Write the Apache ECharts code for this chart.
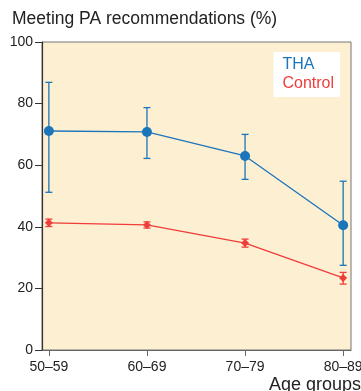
<!DOCTYPE html>
<html>
<head>
<meta charset="utf-8">
<script src="https://cdn.jsdelivr.net/npm/echarts@6/dist/echarts.min.js"></script>
<style>
  html, body { margin: 0; padding: 0; background: #fff; }
  #chart { width: 361px; height: 391px; }
</style>
</head>
<body>
<div id="chart"></div>
<script>
var ageGroups = ['50–59', '60–69', '70–79', '80–89'];
var yTicks = [0, 20, 40, 60, 80, 100];

// THA group: mean and error bar ends
var thaMean = [71.1, 70.8, 63.0, 40.5];
var thaLow  = [51.2, 62.2, 55.4, 27.5];
var thaHigh = [86.9, 78.7, 70.0, 54.8];

// Control group
var ctrlMean = [41.3, 40.6, 34.7, 23.4];
var ctrlLow  = [40.1, 39.6, 33.4, 21.4];
var ctrlHigh = [42.5, 41.6, 36.0, 25.2];

var blue = '#1b75bb';
var red = '#ee3d3a';
var font = 'Liberation Sans, Arial, Helvetica, sans-serif';

function pairs(vals) {
    return vals.map(function (v, i) { return [i, v]; });
}
function bars(low, high) {
    return low.map(function (v, i) { return [i, v, high[i]]; });
}

function errorBar(color, cap) {
    return function (params, api) {
        var lo = api.coord([api.value(0), api.value(1)]);
        var hi = api.coord([api.value(0), api.value(2)]);
        var style = { stroke: color, lineWidth: 1.3 };
        return {
            type: 'group',
            children: [
                { type: 'line', shape: { x1: lo[0], y1: lo[1], x2: hi[0], y2: hi[1] }, style: style },
                { type: 'line', shape: { x1: lo[0] - cap, y1: lo[1], x2: lo[0] + cap, y2: lo[1] }, style: style },
                { type: 'line', shape: { x1: hi[0] - cap, y1: hi[1], x2: hi[0] + cap, y2: hi[1] }, style: style }
            ]
        };
    };
}

var chart = echarts.init(document.getElementById('chart'));

var option = {
    animation: false,
    textStyle: { fontFamily: font },
    title: {
        text: 'Meeting PA recommendations (%)',
        left: 7,
        top: 5,
        textStyle: { fontSize: 17.5, fontWeight: 'normal', color: '#222', fontFamily: font }
    },
    grid: {
        left: 42,
        right: 10,
        top: 42,
        bottom: 41,
        outerBoundsMode: 'none',
        show: true,
        backgroundColor: '#fdefd2',
        borderColor: '#777',
        borderWidth: 1
    },
    legend: {
        orient: 'vertical',
        right: 21,
        top: 52,
        width: 67,
        backgroundColor: '#fff',
        padding: [5, 6, 5, 9],
        itemGap: 3,
        itemWidth: 0,
        itemHeight: 0,
        icon: 'none',
        selectedMode: false,
        data: [
            { name: 'THA', textStyle: { color: blue } },
            { name: 'Control', textStyle: { color: red } }
        ],
        textStyle: { fontSize: 16, fontFamily: font, padding: [0, 0, 0, -5] }
    },
    xAxis: {
        type: 'value',
        min: -0.07,
        max: 3.08,
        splitLine: { show: false },
        axisLine: { onZero: false, lineStyle: { color: '#666', width: 1 } },
        axisTick: { show: true, length: 6, lineStyle: { color: '#666' }, customValues: [0, 1, 2, 3] },
        axisLabel: {
            customValues: [0, 1, 2, 3],
            fontSize: 14,
            color: '#222',
            margin: 10,
            hideOverlap: false,
            formatter: function (v) { return ageGroups[Math.round(v)]; }
        }
    },
    yAxis: {
        type: 'value',
        min: 0,
        max: 100,
        interval: 20,
        splitLine: { show: false },
        axisLine: { show: true, onZero: false, lineStyle: { color: '#333', width: 1.2 } },
        axisTick: { show: true, length: 7, lineStyle: { color: '#333' } },
        axisLabel: {
            fontSize: 14,
            color: '#222',
            margin: 9,
            formatter: function (v) { return yTicks.indexOf(v) >= 0 ? String(v) : ''; }
        }
    },
    series: [
        {
            name: 'THA',
            type: 'line',
            data: pairs(thaMean),
            symbol: 'circle',
            symbolSize: 10,
            itemStyle: { color: blue },
            lineStyle: { color: blue, width: 1.3 },
            z: 3
        },
        {
            name: 'THA err',
            type: 'custom',
            data: bars(thaLow, thaHigh),
            renderItem: errorBar(blue, 3.5),
            encode: { x: 0, y: [1, 2] },
            z: 2
        },
        {
            name: 'Control',
            type: 'line',
            data: pairs(ctrlMean),
            symbol: 'diamond',
            symbolSize: 8,
            itemStyle: { color: red },
            lineStyle: { color: red, width: 1.3 },
            z: 3
        },
        {
            name: 'Control err',
            type: 'custom',
            data: bars(ctrlLow, ctrlHigh),
            renderItem: errorBar(red, 3.5),
            encode: { x: 0, y: [1, 2] },
            z: 2
        }
    ],
    graphic: [
        {
            type: 'text',
            left: 269,
            top: 376,
            style: { text: 'Age groups', fontSize: 18, fill: '#222', fontFamily: font }
        }
    ]
};

chart.setOption(option);
</script>
</body>
</html>
